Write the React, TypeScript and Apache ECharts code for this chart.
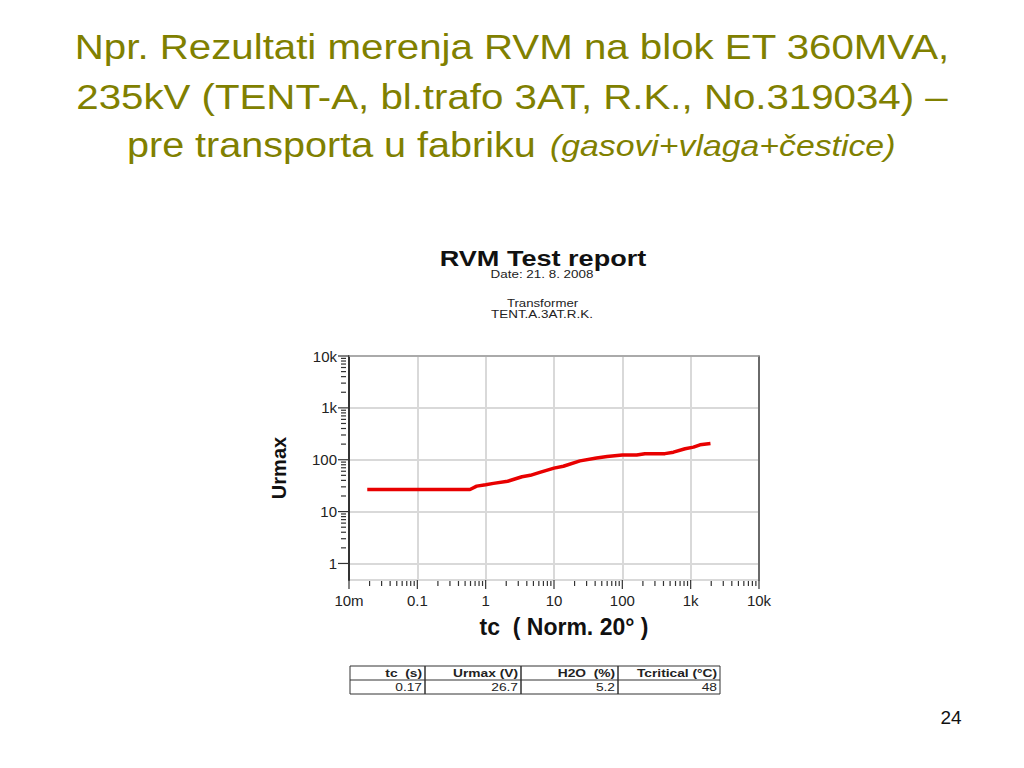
import { useEffect, useRef } from 'react';
import * as echarts from 'echarts';

// slide title (olive, centered)
const TITLE_LINE_1 = 'Npr. Rezultati merenja RVM na blok ET 360MVA,';
const TITLE_LINE_2 = '235kV (TENT-A, bl.trafo 3AT, R.K., No.319034) –';
const TITLE_LINE_3 = 'pre transporta u fabriku';
const TITLE_LINE_3_ITALIC = '(gasovi+vlaga+čestice)';
const PAGE_NO = '24';

// embedded RVM report header
const REPORT_TITLE = 'RVM Test report';
const REPORT_DATE = 'Date: 21. 8. 2008';
const REPORT_OBJ = 'Transformer';
const REPORT_ID = 'TENT.A.3AT.R.K.';

// RVM curve: central time constant tc (s) vs. max return voltage (V)
const TC = [0.0185, 0.59, 0.74, 1.0, 1.3, 2.1, 3.4, 4.5, 6.2, 10, 13.7, 24, 42, 60, 100, 162, 214, 420, 560, 830, 1100, 1370, 1950];
const URMAX = [26.7, 26.7, 31, 33, 35, 38.5, 47, 50, 57, 69, 75, 95, 108, 115, 123, 123, 131, 131, 140, 163, 175, 194, 205];

// axes
const X_MIN = 0.01;
const X_MAX = 10000;
const Y_MIN = 0.48;
const Y_MAX = 10000;
const X_DECADES = [0.01, 0.1, 1, 10, 100, 1000, 10000];
const X_LABELS = ['10m', '0.1', '1', '10', '100', '1k', '10k'];
const Y_DECADES = [1, 10, 100, 1000, 10000];
const Y_LABELS = ['1', '10', '100', '1k', '10k'];
const MINOR_STEPS = [2, 3, 4, 5, 6, 7, 8, 9];
const X_NAME = 'tc  ( Norm. 20° )';
const Y_NAME = 'Urmax';

// result table
const TABLE_HEADERS = ['tc  (s)', 'Urmax (V)', 'H2O  (%)', 'Tcritical (°C)'];
const TABLE_VALUES = ['0.17', '26.7', '5.2', '48'];

const OLIVE = '#808000';
const FONT = 'Liberation Sans';

const decadeLabel = (v: number, decades: number[], labels: string[]) => {
  const e = Math.log10(v);
  const r = Math.round(e);
  if (Math.abs(e - r) > 1e-6) return '';
  const idx = decades.findIndex((d) => Math.round(Math.log10(d)) === r);
  return idx < 0 ? '' : labels[idx];
};

export default function App() {
  const ref = useRef<HTMLDivElement | null>(null);

  useEffect(() => {
    if (!ref.current) return;
    const chart = echarts.init(ref.current, null, { renderer: 'svg' });

    // tick marks: [x, y, kind] kind 0 major-x, 1 minor-x, 2 major-y, 3 minor-y
    const ticks: number[][] = [];
    X_DECADES.forEach((d, i) => {
      ticks.push([d, Y_MIN, 0]);
      if (i < X_DECADES.length - 1) MINOR_STEPS.forEach((k) => ticks.push([k * d, Y_MIN, 1]));
    });
    Y_DECADES.forEach((d, i) => {
      ticks.push([X_MIN, d, 2]);
      if (i < Y_DECADES.length - 1) MINOR_STEPS.forEach((k) => ticks.push([X_MIN, k * d, 3]));
    });

    const colEdges = [350, 425, 521, 618, 720];
    const tTop = 666;
    const tMid = 680;
    const tBot = 694;

    const tableGraphics: any[] = [
      { type: 'rect', shape: { x: colEdges[0], y: tTop, width: colEdges[4] - colEdges[0], height: tBot - tTop }, style: { fill: '#fff', stroke: '#333', lineWidth: 1 } },
      { type: 'line', shape: { x1: colEdges[0], y1: tMid, x2: colEdges[4], y2: tMid }, style: { stroke: '#333', lineWidth: 1 } },
    ];
    for (let i = 1; i < 4; i++) {
      tableGraphics.push({ type: 'line', shape: { x1: colEdges[i], y1: tTop, x2: colEdges[i], y2: tBot }, style: { stroke: '#333', lineWidth: 1.5 } });
    }
    TABLE_HEADERS.forEach((h, i) => {
      tableGraphics.push({
        type: 'text', x: colEdges[i + 1] - 3, y: (tTop + tMid) / 2 + 0.5, scaleX: 1.25,
        style: { text: h, fontSize: 11, fontWeight: 'bold', fontFamily: FONT, fill: '#222', textAlign: 'right', textVerticalAlign: 'middle' },
      });
    });
    TABLE_VALUES.forEach((v, i) => {
      tableGraphics.push({
        type: 'text', x: colEdges[i + 1] - 3, y: (tMid + tBot) / 2 + 0.5, scaleX: 1.25,
        style: { text: v, fontSize: 11, fontFamily: FONT, fill: '#222', textAlign: 'right', textVerticalAlign: 'middle' },
      });
    });

    const txt = (text: string, x: number, y: number, size: number, opts: any = {}) => ({
      type: 'text', x, y, scaleX: opts.scaleX ?? 1,
      style: {
        text, fontSize: size, fontFamily: FONT, fontWeight: opts.bold ? 'bold' : 'normal',
        fontStyle: opts.italic ? 'italic' : 'normal', fill: opts.color ?? '#222',
        textAlign: opts.align ?? 'center', textVerticalAlign: 'middle',
      },
    });

    const axisLabel = (decades: number[], labels: string[], margin: number) => ({
      margin,
      fontSize: 15,
      color: '#222',
      fontFamily: FONT,
      formatter: (v: number) => decadeLabel(v, decades, labels),
    });
    const gridLine = { show: true, lineStyle: { color: '#d9d9d9', width: 2 } };

    chart.setOption({
      animation: false,
      backgroundColor: '#fff',
      textStyle: { fontFamily: FONT },
      grid: { left: 349, right: 265, top: 356, bottom: 188 },
      xAxis: [
        {
          type: 'log', min: X_MIN, max: X_MAX,
          axisLine: { show: false }, axisTick: { show: false },
          splitLine: gridLine,
          axisLabel: axisLabel(X_DECADES, X_LABELS, 13),
          name: X_NAME, nameLocation: 'middle', nameGap: 35,
          nameTextStyle: { fontSize: 23, fontWeight: 'bold', color: '#111', fontFamily: FONT, padding: [0, 0, 0, 20] },
        },
        {
          type: 'log', position: 'top', min: X_MIN, max: X_MAX,
          axisLine: { show: true, lineStyle: { color: '#9a9a9a', width: 1.5 } },
          axisTick: { show: false }, axisLabel: { show: false }, splitLine: { show: false },
        },
      ],
      yAxis: [
        {
          type: 'log', min: Y_MIN, max: Y_MAX,
          axisLine: { show: true, onZero: false, lineStyle: { color: '#333', width: 2 } },
          axisTick: { show: false },
          splitLine: gridLine,
          axisLabel: axisLabel(Y_DECADES, Y_LABELS, 12),
          name: Y_NAME, nameLocation: 'middle', nameGap: 60, nameRotate: 90,
          nameTextStyle: { fontSize: 20, fontWeight: 'bold', color: '#111', fontFamily: FONT },
        },
        {
          type: 'log', position: 'right', min: Y_MIN, max: Y_MAX,
          axisLine: { show: true, onZero: false, lineStyle: { color: '#444', width: 1.5 } },
          axisTick: { show: false }, axisLabel: { show: false }, splitLine: { show: false },
        },
      ],
      series: [
        {
          type: 'custom',
          silent: true,
          z: 3,
          data: ticks,
          renderItem: (_params: any, api: any) => {
            const kind = api.value(2);
            const p = api.coord([api.value(0), api.value(1)]);
            let shape;
            if (kind === 0) shape = { x1: p[0], y1: p[1], x2: p[0], y2: p[1] + 9 };
            else if (kind === 1) shape = { x1: p[0], y1: p[1] + 1, x2: p[0], y2: p[1] + 6 };
            else if (kind === 2) shape = { x1: p[0] - 11, y1: p[1], x2: p[0], y2: p[1] };
            else shape = { x1: p[0] - 8, y1: p[1], x2: p[0] - 3, y2: p[1] };
            return { type: 'line', shape, style: { stroke: '#333', lineWidth: 1.2 } };
          },
        },
        {
          type: 'line',
          data: TC.map((t, i) => [t, URMAX[i]]),
          symbol: 'none',
          showSymbol: false,
          smooth: false,
          z: 5,
          lineStyle: { color: '#e80000', width: 3.5 },
        },
      ],
      graphic: [
        txt(TITLE_LINE_1, 512, 47, 35, { color: OLIVE, scaleX: 1.15 }),
        txt(TITLE_LINE_2, 512, 97, 35, { color: OLIVE, scaleX: 1.15 }),
        txt(TITLE_LINE_3, 127, 144.5, 35, { color: OLIVE, scaleX: 1.13, align: 'left' }),
        txt(TITLE_LINE_3_ITALIC, 550, 146.5, 29, { color: OLIVE, scaleX: 1.165, align: 'left', italic: true }),
        txt(REPORT_TITLE, 543, 258.5, 22, { bold: true, color: '#111', scaleX: 1.23 }),
        txt(REPORT_DATE, 542, 274, 11, { scaleX: 1.22 }),
        txt(REPORT_OBJ, 542.5, 303.5, 11, { scaleX: 1.2 }),
        txt(REPORT_ID, 542, 314.5, 11, { scaleX: 1.22 }),
        txt(PAGE_NO, 951, 717.5, 19, { color: '#111' }),
        ...tableGraphics,
      ],
    });

    return () => {
      chart.dispose();
    };
  }, []);

  return <div ref={ref} style={{ position: 'absolute', left: 0, top: 0, width: 1024, height: 768, background: '#fff' }} />;
}
